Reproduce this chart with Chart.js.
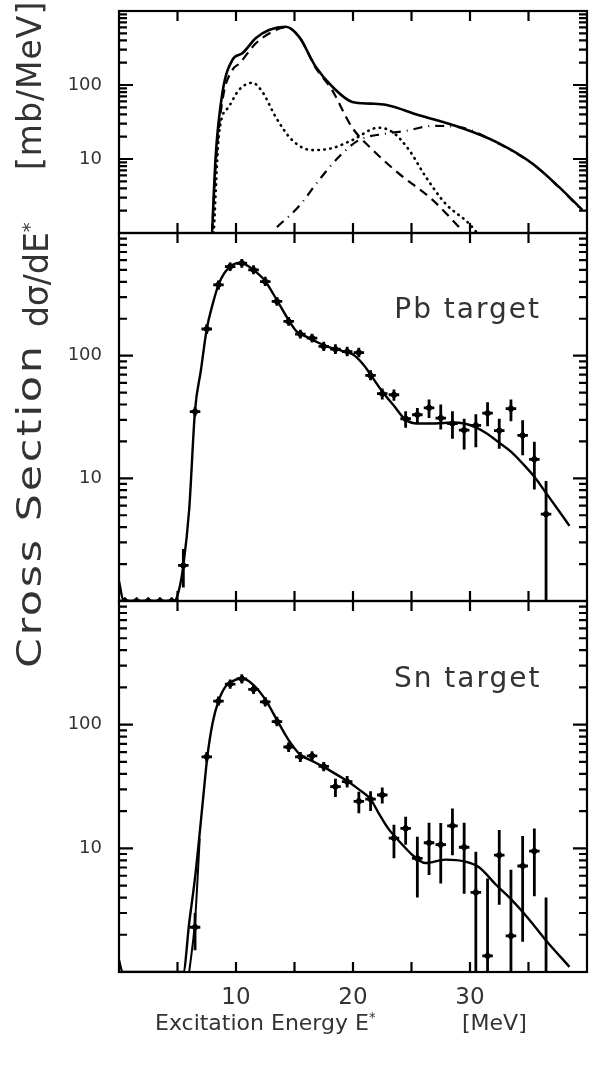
<!DOCTYPE html>
<html>
<head>
<meta charset="utf-8">
<script src="https://cdn.jsdelivr.net/npm/chart.js@4.4.0/dist/chart.umd.min.js"></script>
<style>
  body { margin: 0; background: #fff; }
  #page { position: relative; width: 592px; height: 1073px; overflow: hidden; font-family: "DejaVu Sans", sans-serif; color: #333; }
  canvas { position: absolute; left: 0; }
  .ytitle { position: absolute; left: 13px; font-size: 33px; line-height: 33px; white-space: nowrap; transform-origin: 0 0; transform: rotate(-90deg); }
  .xtitle { position: absolute; top: 1010px; font-size: 22px; white-space: nowrap; }
  sup { font-size: 60%; }
</style>
</head>
<body>
<div id="page">
  <canvas id="top" width="592" height="245" style="top:0"></canvas>
  <canvas id="pb" width="592" height="385" style="top:225px"></canvas>
  <canvas id="sn" width="592" height="483" style="top:590px"></canvas>
  <div class="ytitle" style="top:668px; letter-spacing:2px; transform: rotate(-90deg) scaleX(1.3)">Cross Section</div>
  <div class="ytitle" style="top:327px">dσ/dE<sup>*</sup></div>
  <div class="ytitle" style="top:170px; letter-spacing:1px">[mb/MeV]</div>
  <div class="xtitle" style="left:155px">Excitation Energy E<sup>*</sup></div>
  <div class="xtitle" style="left:462px">[MeV]</div>
</div>
<script>
// top panel: model components (E in MeV, dsigma/dE in mb/MeV)
const totalE = [7.97, 8.26, 8.83, 9.69, 10.54, 11.68, 12.82, 14.25, 15.38, 16.81, 18.23, 19.94, 21.5, 22.79, 25.64, 29.06, 32.48, 35.33, 37.6, 39.6];
const totalV = [1.1, 10.7, 77, 218, 268, 428, 553, 614, 450, 177, 95, 59, 56, 54, 39, 27, 16.3, 8.7, 4.2, 2.05];
const dashE = [7.95, 8.3, 8.9, 9.7, 10.3, 11.7, 13.4, 14.25, 15.4, 16.8, 18.2, 19.9, 21.7, 23.9, 26.8, 29.3];
const dashV = [1.0, 10, 70, 160, 196, 366, 553, 600, 450, 172, 86, 27, 13.2, 6.4, 2.8, 1.1];
const dotE = [8.1, 8.55, 9.4, 10.26, 11.4, 12.25, 13.39, 14.8, 16.5, 18.2, 19.94, 22.2, 23.4, 24.8, 26.2, 27.9, 29.9, 30.5];
const dotV = [1.0, 22, 51, 86, 107, 81, 37, 18, 13.2, 14, 18, 26.5, 23, 13.2, 5.8, 2.5, 1.35, 1.05];
const dashDotE = [13.5, 15.38, 17.1, 18.8, 20.5, 22.8, 24.5, 26.8, 29.06, 32.48, 35.33, 37.6, 39.6];
const dashDotV = [1.2, 2.3, 5.2, 10.7, 18, 22, 24, 28, 27, 16, 8.6, 4.15, 2.0];

// Pb target: measured points with errors, and fit
const pbE = [0.5, 1.5, 2.5, 3.5, 4.5, 5.5, 6.5, 7.5, 8.5, 9.5, 10.5, 11.5, 12.5, 13.5, 14.5, 15.5, 16.5, 17.5, 18.5, 19.5, 20.5, 21.5, 22.5, 23.5, 24.5, 25.5, 26.5, 27.5, 28.5, 29.5, 30.5, 31.5, 32.5, 33.5, 34.5, 35.5, 36.5];
const pbV = [1.0, 1.0, 1.0, 1.0, 1.0, 1.95, 35, 165, 378, 532, 567, 500, 402, 277, 190, 150, 139, 119, 113, 108, 106, 69, 49, 48, 30.6, 33, 37.6, 31, 28, 24.7, 27, 34, 24.5, 37, 22.4, 14.3, 5.1];
const pbLo = [1.0, 1.0, 1.0, 1.0, 1.0, 1.29, 32, 150, 345, 490, 520, 460, 370, 255, 175, 138, 128, 109, 103, 99, 97, 63, 44, 43, 25.8, 28.3, 31, 25, 21, 17.2, 17.9, 26.6, 17.4, 29.2, 15.4, 8.1, 0.5];
const pbHi = [1.0, 1.0, 1.0, 1.0, 1.0, 2.65, 38, 180, 410, 575, 615, 545, 440, 300, 207, 163, 151, 130, 124, 118, 116, 76, 54, 53, 35.3, 37.4, 43.9, 40, 35.3, 30.6, 33.3, 41.7, 30.6, 43.9, 29.8, 19.9, 9.5];
const pbFitE = [0, 0.4, 4.7, 5.1, 5.5, 6.0, 6.5, 7.0, 7.5, 8.0, 8.5, 9.0, 9.5, 10.0, 10.5, 11.0, 11.5, 12.5, 13.5, 14.5, 15.2, 16.0, 17.0, 18.0, 19.0, 20.0, 21.0, 21.5, 22.5, 23.5, 24.5, 25.5, 27.0, 28.5, 29.5, 30.5, 31.5, 32.5, 33.5, 34.5, 35.5, 36.5, 37.5, 38.5];
const pbFitV = [1.45, 1.0, 1.0, 1.2, 1.95, 5.6, 36, 76, 165, 262, 378, 470, 532, 565, 570, 540, 500, 405, 283, 195, 157, 143, 128, 117, 110, 102, 82, 70, 51, 39, 30, 28, 28, 28.5, 28, 26, 23, 19.5, 16.5, 13.2, 10.3, 7.6, 5.6, 4.1];

// Sn target
const snE = [6.5, 7.5, 8.5, 9.5, 10.5, 11.5, 12.5, 13.5, 14.5, 15.5, 16.5, 17.5, 18.5, 19.5, 20.5, 21.5, 22.5, 23.5, 24.5, 25.5, 26.5, 27.5, 28.5, 29.5, 30.5, 31.5, 32.5, 33.5, 34.5, 35.5, 36.5];
const snV = [2.3, 55, 155, 213, 235, 193, 153, 106, 66, 55, 56, 46, 31.5, 34.6, 24, 25, 27, 12.1, 14.5, 8.3, 11.1, 10.7, 15.2, 10.2, 4.4, 1.35, 8.8, 1.96, 7.2, 9.5, 0.5];
const snLo = [1.5, 50, 142, 195, 215, 177, 140, 97, 60, 50, 51, 42, 26, 31, 19.2, 20, 23, 8.3, 10.7, 4.0, 6.1, 5.2, 8.8, 4.3, 0.5, 0.5, 3.5, 0.5, 1.76, 4.1, 0.3];
const snHi = [3.0, 60, 169, 232, 256, 210, 167, 116, 72, 60, 61, 50, 36.5, 38.5, 28.7, 29, 31, 15.5, 18, 12.4, 16.1, 16, 21, 16.1, 9.4, 5.7, 14.1, 6.7, 12.6, 14.5, 4.0];
const snFitE = [0, 0.3, 5.5, 6.0, 6.5, 6.84, 7.2, 7.55, 8.0, 8.5, 9.1, 9.8, 10.5, 11.5, 12.5, 13.5, 14.5, 15.5, 16.5, 17.4, 18.5, 19.5, 20.5, 21.5, 22.2, 23.0, 23.6, 24.3, 25.1, 26.2, 27.9, 29.6, 30.8, 32.2, 33.6, 35.0, 36.5, 38.5];
const snFitV = [1.25, 1.0, 1.0, 2.5, 5.8, 11.7, 26, 55, 103, 155, 203, 227, 237, 209, 160, 109, 75, 57, 51, 46, 40, 35, 30, 25, 19.2, 14.5, 12.4, 10.5, 8.8, 7.6, 8.1, 7.8, 7.0, 5.1, 3.8, 2.7, 1.8, 1.1];
const snFit2E = [6.0, 6.5, 6.9];
const snFit2V = [1.0, 2.6, 12];

const xTickLabels = [10, 20, 30];
const yTickLabels = [10, 100];
const panelText = { pb: 'Pb target', sn: 'Sn target' };

const pts = (xs, ys) => xs.map((x, i) => ({ x: x, y: ys[i] }));

function line(xs, ys, dash, width) {
  return {
    type: 'line',
    data: pts(xs, ys),
    borderColor: '#000',
    borderWidth: width || 2.3,
    borderDash: dash || [],
    borderCapStyle: dash && dash[0] < 2 ? 'round' : 'butt',
    pointRadius: 0,
    cubicInterpolationMode: 'monotone',
    fill: false
  };
}

function measured(xs, ys, lo, hi) {
  return {
    type: 'scatter',
    data: pts(xs, ys),
    errLo: lo,
    errHi: hi,
    pointStyle: 'rectRot',
    pointRadius: 3.8,
    backgroundColor: '#000',
    borderColor: '#000',
    borderWidth: 1,
    showLine: false
  };
}

// error bars + frame with inward ticks on every side
const framePlugin = {
  id: 'frame',
  beforeDatasetsDraw(chart) {
    const { ctx, chartArea: a, scales: { x, y } } = chart;
    ctx.save();
    ctx.beginPath();
    ctx.rect(a.left, a.top, a.right - a.left, a.bottom - a.top);
    ctx.clip();
    ctx.strokeStyle = '#000';
    ctx.lineWidth = 2.8;
    chart.data.datasets.forEach(ds => {
      if (!ds.errLo) return;
      ds.data.forEach((p, i) => {
        const px = x.getPixelForValue(p.x);
        const py = y.getPixelForValue(p.y);
        ctx.beginPath();
        ctx.moveTo(px, y.getPixelForValue(ds.errLo[i]));
        ctx.lineTo(px, y.getPixelForValue(ds.errHi[i]));
        ctx.moveTo(x.getPixelForValue(p.x - 0.45), py);
        ctx.lineTo(x.getPixelForValue(p.x + 0.45), py);
        ctx.stroke();
      });
    });
    ctx.restore();
  },
  afterDatasetsDraw(chart) {
    const { ctx, chartArea: a, scales: { x, y } } = chart;
    ctx.save();
    ctx.strokeStyle = '#000';
    ctx.lineWidth = 2.2;
    ctx.strokeRect(a.left, a.top, a.right - a.left, a.bottom - a.top);
    ctx.beginPath();
    for (let d = y.min; d < y.max; d *= 10) {
      for (let k = 1; k < 10; k++) {
        const py = y.getPixelForValue(k * d);
        const len = k === 1 ? 14 : 8;
        ctx.moveTo(a.left, py); ctx.lineTo(a.left + len, py);
        ctx.moveTo(a.right, py); ctx.lineTo(a.right - len, py);
      }
    }
    x.ticks.forEach(t => {
      if (t.value <= x.min || t.value >= x.max) return;
      const px = x.getPixelForValue(t.value);
      ctx.moveTo(px, a.bottom); ctx.lineTo(px, a.bottom - 10);
      ctx.moveTo(px, a.top); ctx.lineTo(px, a.top + 10);
    });
    ctx.stroke();
    const lab = chart.options.plugins.panelLabel;
    if (lab && lab.text) {
      ctx.fillStyle = '#333';
      ctx.font = '28px "DejaVu Sans"';
      ctx.letterSpacing = '2px';
      ctx.textAlign = 'center';
      ctx.textBaseline = 'middle';
      ctx.fillText(lab.text, x.getPixelForValue(lab.x), y.getPixelForValue(lab.y));
    }
    ctx.restore();
  }
};

function makePanel(id, datasets, pad, showX, label) {
  return new Chart(document.getElementById(id), {
    data: { datasets: datasets },
    plugins: [framePlugin],
    options: {
      responsive: false,
      animation: false,
      devicePixelRatio: 1,
      events: [],
      layout: { padding: pad },
      plugins: { legend: { display: false }, tooltip: { enabled: false }, panelLabel: label },
      scales: {
        x: {
          type: 'linear',
          min: 0,
          max: 40,
          display: showX,
          grid: { display: false, drawTicks: false },
          border: { display: false },
          afterFit: s => {
            if (showX) s.height = 101;
            s.paddingLeft = 0;
            s.paddingRight = 0;
          },
          ticks: {
            stepSize: 5,
            autoSkip: false,
            maxRotation: 0,
            padding: 12,
            color: '#333',
            font: { family: 'DejaVu Sans', size: 23 },
            callback: v => xTickLabels.includes(v) ? String(v) : ''
          }
        },
        y: {
          type: 'logarithmic',
          min: 1,
          max: 1000,
          position: 'left',
          grid: { display: false, drawTicks: false },
          border: { display: false },
          afterFit: s => {
            s.width = 119;
            s.paddingTop = 0;
            s.paddingBottom = 0;
          },
          ticks: {
            autoSkip: false,
            padding: 17,
            color: '#333',
            font: { family: 'DejaVu Sans', size: 18 },
            callback: v => yTickLabels.includes(v) ? String(v) : ''
          }
        }
      }
    }
  });
}

makePanel('top', [
  line(totalE, totalV, [], 2.6),
  line(dashE, dashV, [9, 6], 2.2),
  line(dotE, dotV, [0.5, 5.5], 2.6),
  line(dashDotE, dashDotV, [9, 6, 1, 6], 2.2)
], { top: 11, bottom: 12, left: 0, right: 5 }, false, null);

makePanel('pb', [
  line(pbFitE, pbFitV, [], 2.4),
  measured(pbE, pbV, pbLo, pbHi)
], { top: 8, bottom: 9, left: 0, right: 5 }, false, { text: panelText.pb, x: 29.8, y: 232 });

makePanel('sn', [
  line(snFitE, snFitV, [], 2.4),
  line(snFit2E, snFit2V, [], 2.0),
  measured(snE, snV, snLo, snHi)
], { top: 11, bottom: 0, left: 0, right: 5 }, true, { text: panelText.sn, x: 29.8, y: 230 });
</script>
</body>
</html>
